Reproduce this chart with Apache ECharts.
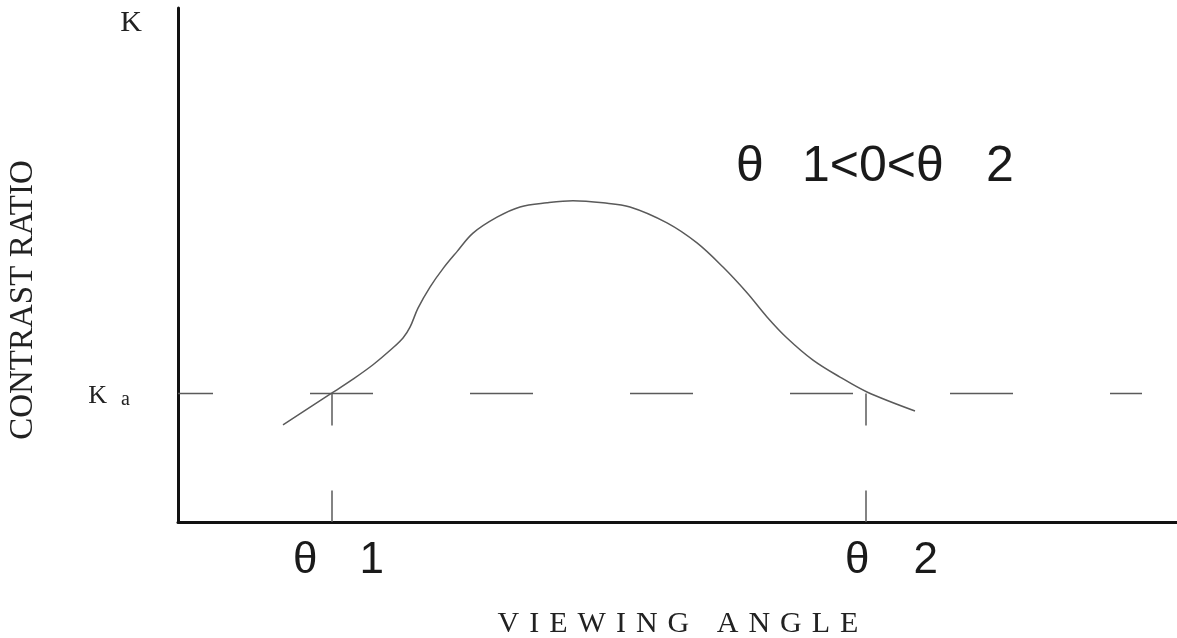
<!DOCTYPE html>
<html>
<head>
<meta charset="utf-8">
<script src="https://cdn.jsdelivr.net/npm/echarts@6/dist/echarts.min.js"></script>
<style>
  html, body { margin: 0; padding: 0; background: #fff; }
  #chart { width: 1177px; height: 638px; }
</style>
</head>
<body>
<div id="chart"></div>
<script>
// Viewing angle (arbitrary units, 0..100) and contrast ratio (arbitrary units, 0..100)
const angle =    [10.5, 15.4, 17.5, 19.5, 21.5, 22.5, 23.2, 24.0, 25.2, 26.5, 27.9, 29.5, 31.9, 34.2, 36.9, 39.5, 42.5, 45.2, 48.9, 51.9, 54.5, 56.9, 58.9, 60.9, 63.5, 66.2, 68.9, 73.7];
const contrast = [18.9, 25.1, 27.8, 30.6, 33.9, 35.8, 37.9, 41.6, 45.7, 49.3, 52.6, 56.2, 59.3, 61.3, 62.1, 62.5, 62.1, 61.3, 58.2, 54.3, 49.6, 44.6, 39.9, 35.8, 31.5, 28.2, 25.3, 21.6];
const kaLevel = 25;
const kLevel = 97;
const theta1 = 15.4;
const theta2 = 68.8;
const kaLineEnd = 96.4;
const xAxisName = 'VIEWING ANGLE';
const yAxisName = 'CONTRAST RATIO';
const annotation = ['θ', '1<0<θ', '2'];

const chart = echarts.init(document.getElementById('chart'), null, { renderer: 'canvas' });
const serif = 'Liberation Serif';
const sans = 'Liberation Sans';
const ink = '#1a1a1a';
const grey = '#5a5a5a';

// spaced-out axis title, one rich token per character
const spacedName = xAxisName.split('').map(function (c) {
  return '{l|' + (c === ' ' ? '\u00a0' : c) + '}';
}).join('');

const option = {
  animation: false,
  backgroundColor: '#ffffff',
  grid: { left: 178, top: 8, width: 1000, height: 514, containLabel: false, outerBoundsMode: 'none' },
  xAxis: {
    type: 'value', min: 0, max: 100,
    axisLine: { show: true, onZero: false, lineStyle: { color: '#111', width: 3 } },
    axisTick: { show: false },
    splitLine: { show: false },
    axisLabel: {
      customValues: [theta1, theta2],
      margin: 17,
      formatter: function (v) {
        return v === theta1 ? '{g1|θ}{n1|1}' : '{g2|θ}{n2|2}';
      },
      rich: {
        g1: { fontFamily: sans, fontSize: 44, color: ink, padding: [0, 0, 0, 13] },
        n1: { fontFamily: sans, fontSize: 44, color: ink, padding: [0, 0, 0, 42] },
        g2: { fontFamily: sans, fontSize: 44, color: ink, padding: [0, 0, 0, 51] },
        n2: { fontFamily: sans, fontSize: 44, color: ink, padding: [0, 0, 0, 44] }
      }
    },
    name: spacedName,
    nameLocation: 'middle',
    nameGap: 87,
    nameTextStyle: {
      fontFamily: serif, fontSize: 30, color: '#222',
      rich: { l: { fontFamily: serif, fontSize: 30, color: '#222', padding: [0, 5, 0, 5] } }
    }
  },
  yAxis: {
    type: 'value', min: 0, max: 100,
    axisLine: { show: true, onZero: false, lineStyle: { color: '#111', width: 3 } },
    axisTick: { show: false },
    splitLine: { show: false },
    axisLabel: {
      customValues: [kaLevel, kLevel],
      margin: 36,
      formatter: function (v) {
        return v === kLevel ? '{k0|K}' : '{k|K}{a|a}';
      },
      rich: {
        k0: { fontFamily: serif, fontSize: 30, color: '#222' },
        k: { fontFamily: serif, fontSize: 26, color: '#222', verticalAlign: 'bottom', padding: [6, 0, 0, 0] },
        a: { fontFamily: serif, fontSize: 20, color: '#222', verticalAlign: 'bottom', padding: [6, 12, 0, 14] }
      }
    }
  },
  series: [
    {
      type: 'line', data: [[0, kaLevel], [kaLineEnd, kaLevel]],
      showSymbol: false, silent: true, z: 1,
      lineStyle: { color: grey, width: 1.5, type: [63, 97], dashOffset: 28 }
    },
    {
      type: 'line', data: [[theta1, kaLevel], [theta1, 0]],
      showSymbol: false, silent: true, z: 1,
      lineStyle: { color: grey, width: 1.5, type: [32, 65] }
    },
    {
      type: 'line', data: [[theta2, kaLevel], [theta2, 0]],
      showSymbol: false, silent: true, z: 1,
      lineStyle: { color: grey, width: 1.5, type: [32, 65] }
    },
    {
      type: 'line', data: angle.map(function (a, i) { return [a, contrast[i]]; }),
      smooth: 0.35, showSymbol: false, silent: true, z: 3,
      lineStyle: { color: grey, width: 1.5 }
    }
  ],
  graphic: [
    {
      type: 'text', x: 23, y: 300, rotation: Math.PI / 2,
      style: { text: yAxisName, fontFamily: serif, fontSize: 33, fill: '#222', align: 'center', verticalAlign: 'middle' }
    },
    {
      type: 'text', x: 736, y: 167,
      style: { text: annotation[0], fontFamily: sans, fontSize: 50, fill: ink, align: 'left', verticalAlign: 'middle' }
    },
    {
      type: 'text', x: 802, y: 167,
      style: { text: annotation[1], fontFamily: sans, fontSize: 50, fill: ink, align: 'left', verticalAlign: 'middle' }
    },
    {
      type: 'text', x: 986, y: 167,
      style: { text: annotation[2], fontFamily: sans, fontSize: 50, fill: ink, align: 'left', verticalAlign: 'middle' }
    }
  ]
};
chart.setOption(option);
</script>
</body>
</html>
